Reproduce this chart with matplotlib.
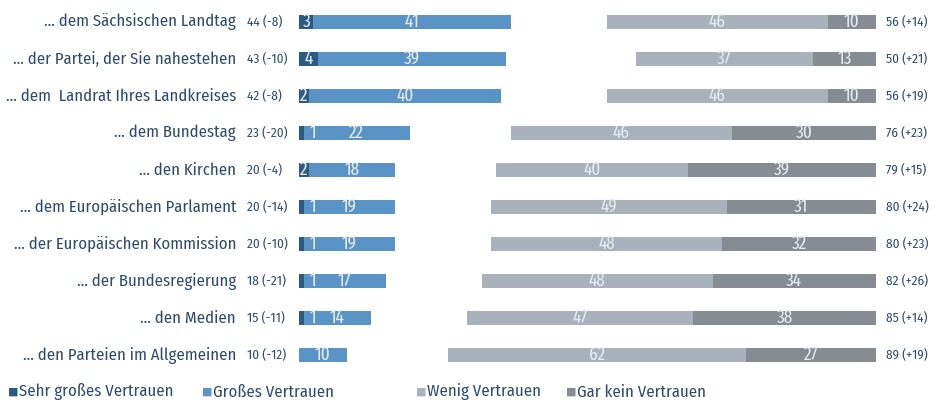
import matplotlib.pyplot as plt
import numpy as np

labels = ["... dem Sächsischen Landtag", "... der Partei, der Sie nahestehen",
          "... dem  Landrat Ihres Landkreises", "... dem Bundestag", "... den Kirchen",
          "... dem Europäischen Parlament", "... der Europäischen Kommission",
          "... der Bundesregierung", "... den Medien", "... den Parteien im Allgemeinen"]
sehr_gross = [3, 4, 2, 1, 2, 1, 1, 1, 1, 0]
gross = [41, 39, 40, 22, 18, 19, 19, 17, 14, 10]
trust_txt = ["44 (-8)", "43 (-10)", "42 (-8)", "23 (-20)", "20 (-4)", "20 (-14)",
             "20 (-10)", "18 (-21)", "15 (-11)", "10 (-12)"]
wenig = [46, 37, 46, 46, 40, 49, 48, 48, 47, 62]
gar_kein = [10, 13, 10, 30, 39, 31, 32, 34, 38, 27]
distrust_txt = ["56 (+14)", "50 (+21)", "56 (+19)", "76 (+23)", "79 (+15)", "80 (+24)",
                "80 (+23)", "82 (+26)", "85 (+14)", "89 (+19)"]
legend_labels = ["Sehr großes Vertrauen", "Großes Vertrauen", "Wenig Vertrauen", "Gar kein Vertrauen"]

c_dark_blue = "#2b5a82"
c_blue = "#5a94c6"
c_light_grey = "#a9b1bc"
c_dark_grey = "#878c93"
c_text = "#2e4a6c"
c_bar_txt = "#e6ebf1"

plt.rcParams['font.family'] = ["Fira Sans Condensed", "DejaVu Sans"]
bar_font = ["Fira Sans Extra Condensed", "DejaVu Sans"]

W, H = 935, 401
fig = plt.figure(figsize=(W / 100, H / 100), dpi=100)
ax = fig.add_axes([299 / W, 1 - 373.5 / H, 577 / W, 370 / H])
xmax = 120
ax.set_xlim(0, xmax)
ax.set_ylim(9.5, -0.5)
ax.axis("off")

y = np.arange(len(labels))
sg = np.array(sehr_gross)
g = np.array(gross)
w = np.array(wenig)
gk = np.array(gar_kein)
h = 0.4

ax.barh(y, sg, height=h, color=c_dark_blue)
ax.barh(y, g, left=sg, height=h, color=c_blue)
ax.barh(y, gk, left=xmax - gk, height=h, color=c_dark_grey)
ax.barh(y, w, left=xmax - gk - w, height=h, color=c_light_grey)

tk = dict(color=c_bar_txt, fontsize=13.5, ha="center", va="center", family=bar_font)
for i in y:
    if sg[i] > 0:
        xs = sg[i] / 2 if sg[i] >= 2 else 2.9
        ax.text(xs, i, str(sg[i]), **tk)
    ax.text(sg[i] + g[i] / 2, i, str(g[i]), **tk)
    ax.text(xmax - gk[i] - w[i] / 2, i, str(w[i]), **tk)
    ax.text(xmax - gk[i] / 2, i, str(gk[i]), **tk)
    ax.text(-13.1, i, labels[i], color=c_text, fontsize=12, ha="right", va="center")
    ax.text(-10.9, i, trust_txt[i], color=c_text, fontsize=9.5, ha="left", va="center")
    ax.text(xmax + 2.1, i, distrust_txt[i], color=c_text, fontsize=9.5, ha="left", va="center")

leg_x = [8, 202, 416, 566]
leg_c = [c_dark_blue, c_blue, c_light_grey, c_dark_grey]
for lx, lc, lt in zip(leg_x, leg_c, legend_labels):
    fig.text(lx / W, 1 - 392 / H, "■", color=lc, fontsize=8, ha="left", va="center",
             family="DejaVu Sans")
    fig.text((lx + 11) / W, 1 - 392 / H, lt, color=c_text, fontsize=12, ha="left", va="center")

fig.savefig("out.png", dpi=100)
